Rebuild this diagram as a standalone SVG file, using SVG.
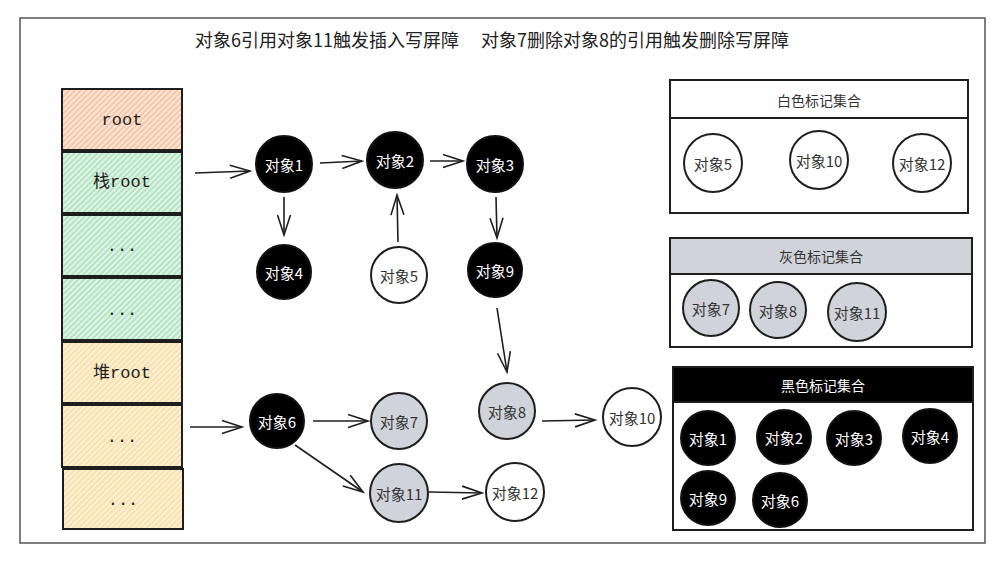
<svg xmlns="http://www.w3.org/2000/svg" width="1008" height="564" viewBox="0 0 1008 564">
<style>
.frame{fill:#fff;stroke:#555;stroke-width:1.5}
.cell{stroke:#1e1e1e;stroke-width:2}
.celltxt{font-family:"Liberation Mono","Noto Sans CJK SC",monospace;font-size:17px;fill:#1e1e1e;text-anchor:middle;dominant-baseline:central}
.nb{fill:#000;stroke:#111;stroke-width:2}
.nw{fill:#fff;stroke:#1e1e1e;stroke-width:2}
.ng{fill:#d0d4da;stroke:#1e1e1e;stroke-width:2}
.lt{font-family:"Noto Sans CJK SC","Liberation Sans",sans-serif;font-size:15px;text-anchor:middle;dominant-baseline:central}
.lw{fill:#fff}
.ld{fill:#333}
.title{font-family:"Noto Sans CJK SC","Liberation Sans",sans-serif;font-size:18px;fill:#222}
.ph{stroke:#1e1e1e;stroke-width:2}
.pt{font-family:"Noto Sans CJK SC","Liberation Sans",sans-serif;font-size:14px;text-anchor:middle;dominant-baseline:central}
.conn line{stroke:#1e1e1e;stroke-width:1.6;fill:none;marker-end:url(#arr)}
</style>
<defs>
<pattern id="hO" width="4" height="4" patternUnits="userSpaceOnUse" patternTransform="rotate(45)"><rect width="4" height="4" fill="#fde6d6"/><line x1="1" y1="0" x2="1" y2="4" stroke="#f2a57a" stroke-width="1"/></pattern>
<pattern id="hG" width="4" height="4" patternUnits="userSpaceOnUse" patternTransform="rotate(45)"><rect width="4" height="4" fill="#def4e5"/><line x1="1" y1="0" x2="1" y2="4" stroke="#8fd3a4" stroke-width="1"/></pattern>
<pattern id="hY" width="4" height="4" patternUnits="userSpaceOnUse" patternTransform="rotate(45)"><rect width="4" height="4" fill="#fdf1d6"/><line x1="1" y1="0" x2="1" y2="4" stroke="#f5cf82" stroke-width="1"/></pattern>
<marker id="arr" markerUnits="userSpaceOnUse" markerWidth="24" markerHeight="18" refX="21" refY="8" orient="auto"><path d="M1,1.5 L21,8 L1,14.5" fill="none" stroke="#1e1e1e" stroke-width="1.6"/></marker>
</defs>
<rect width="1008" height="564" fill="#fff"/>
<rect class="frame" x="20" y="18" width="965" height="525"/>
<text class="title" x="195" y="47">对象6引用对象11触发插入写屏障</text>
<text class="title" x="481" y="47">对象7删除对象8的引用触发删除写屏障</text>

<g id="stack">
<g id="cell-root"><rect class="cell" x="62" y="89" width="120" height="61" fill="url(#hO)"/><text class="celltxt" x="122" y="120">root</text></g>
<g id="cell-stackroot"><rect class="cell" x="62" y="152" width="120" height="61" fill="url(#hG)"/><text class="celltxt" x="122" y="182">栈root</text></g>
<g id="cell-s1"><rect class="cell" x="62" y="215" width="120" height="61" fill="url(#hG)"/><text class="celltxt" x="122" y="246">...</text></g>
<g id="cell-s2"><rect class="cell" x="62" y="278" width="120" height="62" fill="url(#hG)"/><text class="celltxt" x="122" y="310">...</text></g>
<g id="cell-heaproot"><rect class="cell" x="62" y="342" width="120" height="61" fill="url(#hY)"/><text class="celltxt" x="122" y="373">堆root</text></g>
<g id="cell-h1"><rect class="cell" x="62" y="405" width="120" height="62" fill="url(#hY)"/><text class="celltxt" x="122" y="437">...</text></g>
<g id="cell-h2"><rect class="cell" x="63" y="469" width="120" height="60" fill="url(#hY)"/><text class="celltxt" x="123" y="500">...</text></g>
</g>

<g class="conn" id="connectors">
<line x1="195" y1="173" x2="250" y2="171"/>
<line x1="320" y1="163" x2="362" y2="161"/>
<line x1="430" y1="161" x2="463" y2="161"/>
<line x1="284" y1="197" x2="284" y2="235"/>
<line x1="398" y1="242" x2="397" y2="195"/>
<line x1="496" y1="197" x2="497" y2="238"/>
<line x1="497" y1="308" x2="507" y2="372"/>
<line x1="190" y1="427" x2="242" y2="427"/>
<line x1="313" y1="421" x2="368" y2="421"/>
<line x1="295" y1="445" x2="363" y2="492"/>
<line x1="429" y1="492" x2="482" y2="493"/>
<line x1="542" y1="421" x2="595" y2="420"/>
</g>

<g id="n1"><circle class="nb" cx="284" cy="164" r="28"/><text class="lt lw" x="284" y="164">对象1</text></g>
<g id="n2"><circle class="nb" cx="395" cy="160" r="28"/><text class="lt lw" x="395" y="160">对象2</text></g>
<g id="n3"><circle class="nb" cx="495" cy="164" r="28"/><text class="lt lw" x="495" y="164">对象3</text></g>
<g id="n4"><circle class="nb" cx="284" cy="272" r="27"/><text class="lt lw" x="284" y="272">对象4</text></g>
<g id="n5"><circle class="nw" cx="399" cy="275" r="28"/><text class="lt ld" x="399" y="275">对象5</text></g>
<g id="n9"><circle class="nb" cx="495" cy="270" r="27"/><text class="lt lw" x="495" y="270">对象9</text></g>
<g id="n6"><circle class="nb" cx="277" cy="421" r="27"/><text class="lt lw" x="277" y="421">对象6</text></g>
<g id="n7"><circle class="ng" cx="399" cy="421" r="28"/><text class="lt ld" x="399" y="421">对象7</text></g>
<g id="n8"><circle class="ng" cx="507" cy="411" r="28"/><text class="lt ld" x="507" y="411">对象8</text></g>
<g id="n10"><circle class="nw" cx="632" cy="417" r="29"/><text class="lt ld" x="632" y="417">对象10</text></g>
<g id="n11"><circle class="ng" cx="399" cy="493" r="29"/><text class="lt ld" x="399" y="493">对象11</text></g>
<g id="n12"><circle class="nw" cx="515" cy="492" r="29"/><text class="lt ld" x="515" y="492">对象12</text></g>

<g id="white-set">
<rect class="ph" x="670" y="80" width="298" height="38" fill="#fff"/>
<rect class="ph" x="670" y="118" width="298" height="95" fill="#fff"/>
<text class="pt ld" x="819" y="100">白色标记集合</text>
<circle class="nw" cx="713" cy="163" r="29"/><text class="lt ld" x="713" y="163">对象5</text>
<circle class="nw" cx="819" cy="160" r="29"/><text class="lt ld" x="819" y="160">对象10</text>
<circle class="nw" cx="922" cy="163" r="29"/><text class="lt ld" x="922" y="163">对象12</text>
</g>

<g id="gray-set">
<rect class="ph" x="670" y="238" width="302" height="36" fill="#d0d4da"/>
<rect class="ph" x="670" y="274" width="302" height="73" fill="#fff"/>
<text class="pt ld" x="821" y="256">灰色标记集合</text>
<circle class="ng" cx="711" cy="308" r="28"/><text class="lt ld" x="711" y="308">对象7</text>
<circle class="ng" cx="778" cy="310" r="28"/><text class="lt ld" x="778" y="310">对象8</text>
<circle class="ng" cx="857" cy="312" r="29"/><text class="lt ld" x="857" y="312">对象11</text>
</g>

<g id="black-set">
<rect class="ph" x="673" y="367" width="300" height="35" fill="#000"/>
<rect class="ph" x="673" y="402" width="300" height="128" fill="#fff"/>
<text class="pt lw" x="823" y="385">黑色标记集合</text>
<circle class="nb" cx="708" cy="438" r="27"/><text class="lt lw" x="708" y="438">对象1</text>
<circle class="nb" cx="784" cy="437" r="27"/><text class="lt lw" x="784" y="437">对象2</text>
<circle class="nb" cx="854" cy="438" r="27"/><text class="lt lw" x="854" y="438">对象3</text>
<circle class="nb" cx="930" cy="436" r="27"/><text class="lt lw" x="930" y="436">对象4</text>
<circle class="nb" cx="708" cy="498" r="27"/><text class="lt lw" x="708" y="498">对象9</text>
<circle class="nb" cx="780" cy="500" r="27"/><text class="lt lw" x="780" y="500">对象6</text>
</g>
</svg>
